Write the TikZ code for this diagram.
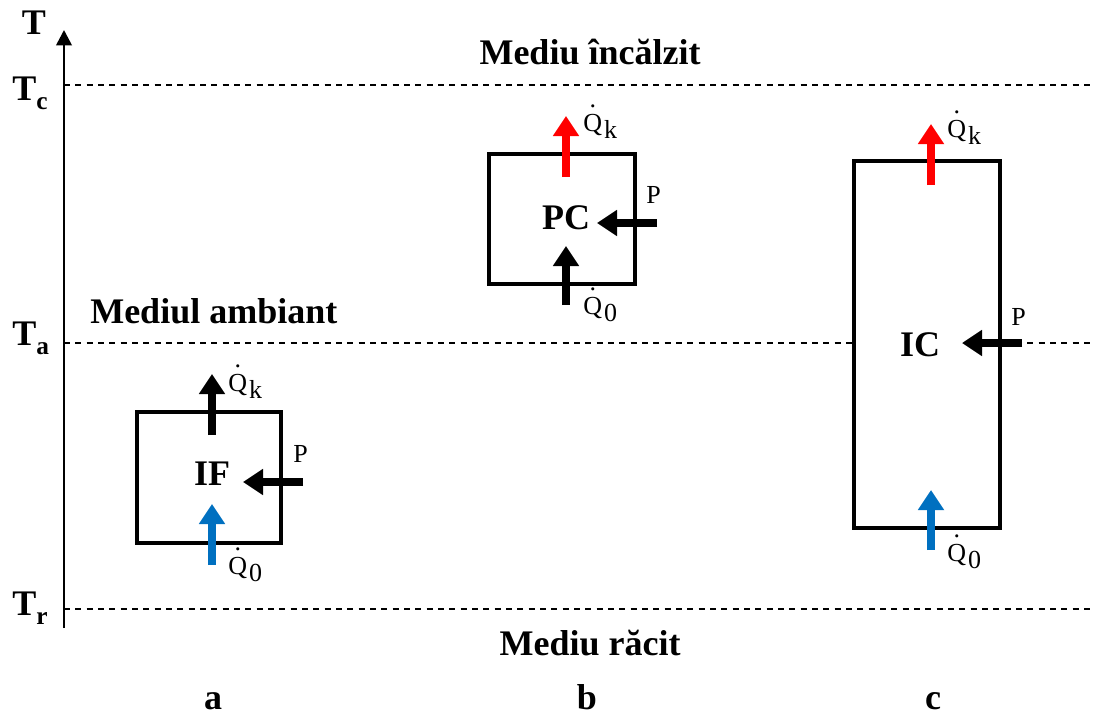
\documentclass[tikz,border=0pt]{standalone}
\usepackage{fontspec}
\setmainfont{Liberation Serif}
\usetikzlibrary{arrows.meta}
\newcommand{\Qdot}[1]{\rlap{\hspace{0.24em}\raisebox{0.9em}{.}}Q\kern0.08em\raisebox{-0.3em}{#1}}
\definecolor{flowblue}{HTML}{0070C0}
\begin{document}
\begin{tikzpicture}[x=0.75pt,y=-0.75pt,
  big/.style={font=\fontsize{27}{30}\selectfont\bfseries, inner sep=0, anchor=base},
  small/.style={font=\fontsize{19.5}{21}\selectfont, inner sep=0, anchor=base west},
  level/.style={line width=1.1pt, dash pattern=on 4.5pt off 4pt},
  sysbox/.style={draw, line width=2.6pt, fill=white, inner sep=0, minimum width=109pt},
  flow/.style={line width=5.5pt, -{Triangle[width=18.75pt,length=15pt]}},
  axisline/.style={line width=2pt, -{Triangle[width=11.5pt,length=11.5pt]}}
]
\useasboundingbox (0,0) rectangle (1098,715);

% levels
\coordinate (cL) at (64,85);   \coordinate (cR) at (1095,85);
\coordinate (aL) at (64,343);  \coordinate (aR) at (1095,343);
\coordinate (rL) at (64,609);  \coordinate (rR) at (1095,609);
\draw[level] (cL) -- (cR);
\draw[level] (aL) -- (aR);
\draw[level] (rL) -- (rR);

% axis
\coordinate (ybot) at (64,628);
\coordinate (ytop) at (64,30);
\draw[axisline] (ybot) -- (ytop);
\node[big, anchor=base] (T) at (34,34) {T};
\node[big, anchor=base west] (Tc) at (12,100) {T\raisebox{-0.25em}{\fontsize{19}{20}\selectfont c}};
\node[big, anchor=base west] (Ta) at (12,345) {T\raisebox{-0.25em}{\fontsize{19}{20}\selectfont a}};
\node[big, anchor=base west] (Tr) at (12,615) {T\raisebox{-0.25em}{\fontsize{19}{20}\selectfont r}};

% level names
\node[big] (heated) at (590,64) {Mediu încălzit};
\node[big, anchor=base west] (ambient) at (90,323) {Mediul ambiant};
\node[big] (cooled) at (590,655) {Mediu răcit};

% boxes
\node[sysbox, minimum width=108pt, minimum height=98.25pt] (IF) at (209,477.5) {};
\node[sysbox, minimum width=109.5pt, minimum height=97.5pt] (PC) at (562,219) {};
\node[sysbox, minimum width=109.5pt, minimum height=275.25pt] (IC) at (927,344.5) {};

\node[big] (IFl) at (212,485) {IF};
\node[big] (PCl) at (566,229) {PC};
\node[big] (ICl) at (920,356) {IC};

% IF arrows
\coordinate (ifk0) at (212,435); \coordinate (ifk1) at (212,374);
\coordinate (if00) at (212,565); \coordinate (if01) at (212,504);
\coordinate (ifp0) at (303,482); \coordinate (ifp1) at (243,482);
\draw[flow] (ifk0) -- (ifk1);
\draw[flow, flowblue] (if00) -- (if01);
\draw[flow] (ifp0) -- (ifp1);
\node[small] (ifQk) at (228,391) {\Qdot{k}};
\node[small] (ifQ0) at (228,574) {\Qdot{0}};
\node[small] (ifP) at (293,462) {P};

% PC arrows
\coordinate (pck0) at (566,177); \coordinate (pck1) at (566,116);
\coordinate (pc00) at (566,305); \coordinate (pc01) at (566,246);
\coordinate (pcp0) at (657,223); \coordinate (pcp1) at (597,223);
\draw[flow, red] (pck0) -- (pck1);
\draw[flow] (pc00) -- (pc01);
\draw[flow] (pcp0) -- (pcp1);
\node[small] (pcQk) at (583,131) {\Qdot{k}};
\node[small] (pcQ0) at (583,314) {\Qdot{0}};
\node[small] (pcP) at (646,203) {P};

% IC arrows
\coordinate (ick0) at (931,185); \coordinate (ick1) at (931,124);
\coordinate (ic00) at (931,550); \coordinate (ic01) at (931,490);
\coordinate (icp0) at (1022,343); \coordinate (icp1) at (962,343);
\draw[flow, red] (ick0) -- (ick1);
\draw[flow, flowblue] (ic00) -- (ic01);
\draw[flow] (icp0) -- (icp1);
\node[small] (icQk) at (947,137) {\Qdot{k}};
\node[small] (icQ0) at (947,561) {\Qdot{0}};
\node[small] (icP) at (1011,325) {P};

% case letters
\node[big] (la) at (213,709) {a};
\node[big] (lb) at (587,709) {b};
\node[big] (lc) at (933,709) {c};
\end{tikzpicture}
\end{document}
